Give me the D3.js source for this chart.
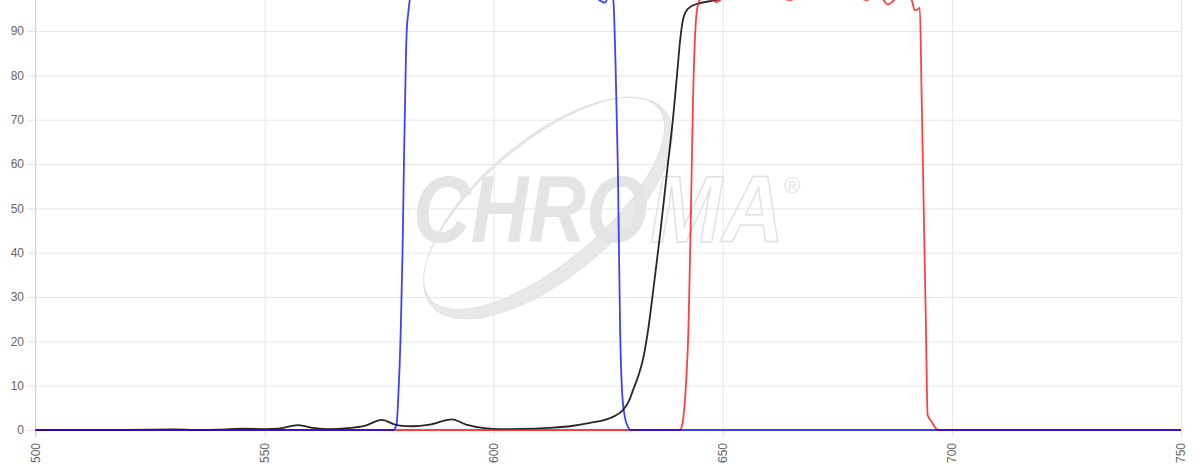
<!DOCTYPE html>
<html lang="en">
<head>
  <meta charset="UTF-8">
  <title>Filter transmission</title>
  <script src="https://d3js.org/d3.v7.min.js"></script>
  <style>
    body { margin: 0; background: #fff; }
    svg text { font-family: "Liberation Sans", Arial, sans-serif; }
  </style>
</head>
<body>
<div id="chart"></div>
<script>
// tick values
var xTicks = [500, 550, 600, 650, 700, 750];
var yTicks = [0, 10, 20, 30, 40, 50, 60, 70, 80, 90, 100];

// black curve (nm, %T)
var blackNm = [500, 520, 530.4, 535, 540, 545.5, 550, 553, 557.3, 561, 564, 568, 572, 575.6, 578.5, 580, 582.2, 586, 590.9, 594, 598, 601.4, 606, 612, 617, 621, 625.4, 628.2, 629.5, 630.4, 631.5, 632.7, 633.7, 635, 636.3, 637.8, 639.2, 640.0, 640.7, 641.3, 642.0, 643.0, 645.0, 648.7, 652, 660, 700, 750];
var blackT  = [0.05, 0.05, 0.15, 0.05, 0.1, 0.3, 0.2, 0.3, 1.1, 0.4, 0.2, 0.4, 1.0, 2.3, 1.2, 0.95, 0.85, 1.2, 2.4, 1.2, 0.4, 0.2, 0.25, 0.5, 0.9, 1.6, 2.7, 4.5, 6.5, 9, 12, 16.5, 22.6, 33, 44, 58, 71, 80, 88, 92.5, 94.5, 95.5, 96.3, 97, 98, 98.5, 98.5, 98.5];

// red curve
var redNm = [500, 640.6, 641.2, 641.6, 642.0, 642.5, 643.0, 643.55, 644.0, 644.4, 645.0, 646.5, 648.7, 651, 656, 660, 664.7, 668, 672, 675, 678, 681.4, 684, 686.0, 688, 689.7, 691.2, 691.9, 692.4, 693.0, 693.4, 693.85, 694.3, 694.7, 695.5, 697.0, 750];
var redT  = [0, 0, 1.5, 5, 11, 22.6, 47, 76.7, 90, 95, 97, 98, 96.5, 98.5, 98.2, 98.3, 97, 98.4, 98.2, 97.3, 98.3, 97, 98.3, 96, 97.5, 98, 97, 94.7, 94.8, 95.2, 75, 50, 25, 3.4, 2, 0, 0];

// blue curve
var blueNm = [500, 578.1, 578.8, 579.2, 579.7, 580.1, 580.4, 580.8, 581.0, 581.4, 581.7, 582.5, 585, 590, 596.1, 600, 610, 618, 622, 624.3, 625.0, 625.8, 626.1, 626.6, 627.1, 627.6, 628.0, 628.6, 629.2, 629.9, 640, 700, 750];
var blueT  = [0, 0, 1.3, 8, 21.9, 40, 59.4, 81.9, 89.6, 94.5, 97, 98, 98.3, 98.5, 97.2, 98.3, 98.5, 98.2, 97.6, 96.4, 97.6, 97.8, 97, 82, 59, 22, 9, 3, 1, 0, 0, 0, 0];

var W = 1200, H = 470;
var plotLeft = 35.5, plotRight = 1181, plotBottom = 430, plotTop = -13.3;

var svg = d3.select("#chart").append("svg")
  .attr("width", W).attr("height", H);

var x = d3.scaleLinear().domain([500, 750]).range([plotLeft, plotRight]);
var y = d3.scaleLinear().domain([0, 100]).range([plotBottom, plotTop]);

// watermark behind grid
var wm = svg.append("g");
var ring = wm.append("g").attr("transform", "translate(548,208) rotate(-40)");
ring.append("path")
  .attr("fill-rule", "evenodd")
  .attr("fill", "#e8e8e8")
  .attr("stroke", "#e0e0e0")
  .attr("stroke-width", 1)
  .attr("d", function() {
    var e = function(rx, ry, oy) {
      return "M" + (-rx) + "," + oy + " a" + rx + "," + ry + " 0 1,0 " + (2 * rx) + ",0 a" + rx + "," + ry + " 0 1,0 " + (-2 * rx) + ",0 Z";
    };
    return e(152, 68, 0) + " " + e(149, 60, -6);
  });
wm.append("text")
  .attr("x", 413).attr("y", 242)
  .attr("textLength", 235).attr("lengthAdjust", "spacingAndGlyphs")
  .style("font-size", "94px").style("font-weight", "bold").style("font-style", "italic")
  .attr("fill", "#e4e4e4")
  .text("CHRO");
wm.append("text")
  .attr("x", 650).attr("y", 242)
  .attr("textLength", 134).attr("lengthAdjust", "spacingAndGlyphs")
  .style("font-size", "94px").style("font-weight", "bold").style("font-style", "italic")
  .attr("fill", "none").attr("stroke", "#e0e0e0").attr("stroke-width", 1.5)
  .text("MA");
wm.append("text")
  .attr("x", 784).attr("y", 193)
  .style("font-size", "22px")
  .attr("fill", "#e4e4e4")
  .text("\u00AE");

// y axis + horizontal grid
var yAxis = svg.append("g")
  .attr("transform", "translate(27,0)")
  .call(d3.axisLeft(y).tickValues(yTicks).tickSize(-(plotRight - 27)).tickPadding(3));
yAxis.select(".domain").remove();
yAxis.selectAll("line").attr("stroke", "#e6e6e6");
yAxis.selectAll("text").attr("fill", "#666").style("font-size", "12px");

// x axis + vertical grid
var xAxis = svg.append("g")
  .attr("transform", "translate(0,437)")
  .call(d3.axisBottom(x).tickValues(xTicks).tickSize(-(437 - plotTop)));
xAxis.select(".domain").remove();
xAxis.selectAll("line").attr("stroke", "#e6e6e6");
xAxis.selectAll("text")
  .attr("transform", "rotate(-90)")
  .attr("x", -6).attr("y", 0).attr("dy", "0.32em")
  .style("text-anchor", "end")
  .attr("fill", "#666").style("font-size", "12px");

// left axis line
svg.append("line")
  .attr("x1", plotLeft).attr("x2", plotLeft)
  .attr("y1", plotTop).attr("y2", 437)
  .attr("stroke", "#d4d4d4");

var line = d3.line()
  .x(function(d) { return x(d[0]); })
  .y(function(d) { return y(d[1]); })
  .curve(d3.curveMonotoneX);

function series(nm, t, color) {
  svg.append("path")
    .datum(d3.zip(nm, t))
    .attr("fill", "none")
    .attr("stroke", color)
    .attr("stroke-width", 1.8)
    .attr("stroke-linejoin", "round")
    .attr("d", line);
}

series(blackNm, blackT, "rgba(0,0,0,0.85)");
series(redNm, redT, "rgba(255,0,0,0.75)");
series(blueNm, blueT, "rgba(0,0,255,0.75)");
</script>
</body>
</html>
